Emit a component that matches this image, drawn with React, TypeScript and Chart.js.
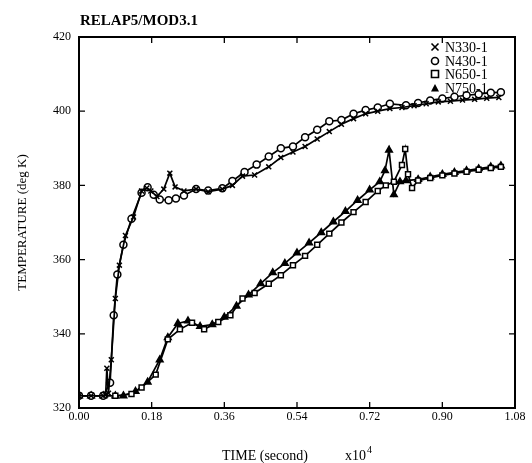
import React, { useEffect, useRef } from "react";
import { Chart, registerables } from "chart.js";

Chart.register(...registerables);

const xTicks = [0, 0.18, 0.36, 0.54, 0.72, 0.9, 1.08];
const yTicks = [320, 340, 360, 380, 400, 420];

const n330T = [0, 0.03, 0.06, 0.066, 0.069, 0.073, 0.08, 0.09, 0.1, 0.115, 0.135, 0.155, 0.168, 0.178, 0.193, 0.21, 0.225, 0.238, 0.26, 0.29, 0.32, 0.355, 0.38, 0.405, 0.435, 0.47, 0.5, 0.53, 0.56, 0.59, 0.62, 0.65, 0.68, 0.71, 0.74, 0.77, 0.8, 0.83, 0.86, 0.89, 0.92, 0.95, 0.98, 1.01, 1.04];
const n330V = [323.3, 323.3, 323.3, 323.5, 330.7, 324, 333, 349.5, 358.5, 366.5, 371.5, 378.5, 379.3, 378.5, 377, 379, 383.3, 379.6, 378.5, 379, 378.3, 379, 380, 382.5, 382.8, 385, 387.5, 389, 390.5, 392.5, 394.5, 396.5, 398, 399.3, 400, 400.7, 401, 401.5, 402, 402.5, 402.7, 403, 403.2, 403.5, 403.7];

const n430T = [0, 0.03, 0.06, 0.077, 0.086, 0.095, 0.11, 0.13, 0.155, 0.17, 0.185, 0.2, 0.222, 0.24, 0.26, 0.29, 0.32, 0.355, 0.38, 0.41, 0.44, 0.47, 0.5, 0.53, 0.56, 0.59, 0.62, 0.65, 0.68, 0.71, 0.74, 0.77, 0.81, 0.84, 0.87, 0.9, 0.93, 0.96, 0.99, 1.02, 1.045];
const n430V = [323.3, 323.3, 323.3, 326.8, 345, 356, 364, 371, 378, 379.5, 377.5, 376.2, 376, 376.5, 377.3, 379, 378.6, 379.2, 381.2, 383.6, 385.6, 387.8, 390, 390.5, 393, 395, 397.3, 397.6, 399.3, 400.3, 401, 402, 401.6, 402.2, 402.9, 403.4, 403.9, 404.3, 404.6, 405, 405.1];

const n650T = [0, 0.03, 0.06, 0.09, 0.13, 0.155, 0.19, 0.22, 0.25, 0.28, 0.31, 0.345, 0.375, 0.405, 0.435, 0.47, 0.5, 0.53, 0.56, 0.59, 0.62, 0.65, 0.68, 0.71, 0.74, 0.76, 0.78, 0.8, 0.808, 0.815, 0.825, 0.84, 0.87, 0.9, 0.93, 0.96, 0.99, 1.02, 1.045];
const n650V = [323.3, 323.3, 323.3, 323.3, 323.8, 325.5, 329, 338.5, 341.2, 343, 341.2, 343.2, 345, 349.5, 351, 353.5, 355.8, 358.5, 361, 364, 367, 370, 372.8, 375.5, 378.5, 380, 381, 385.5, 389.8, 383, 379.3, 381.3, 382, 382.7, 383.2, 383.7, 384.2, 384.7, 385];

const n750T = [0, 0.03, 0.06, 0.09, 0.11, 0.14, 0.17, 0.2, 0.22, 0.245, 0.27, 0.3, 0.33, 0.36, 0.39, 0.42, 0.45, 0.48, 0.51, 0.54, 0.57, 0.6, 0.63, 0.66, 0.69, 0.72, 0.745, 0.758, 0.768, 0.78, 0.795, 0.81, 0.84, 0.87, 0.9, 0.93, 0.96, 0.99, 1.02, 1.045];
const n750V = [323.3, 323.3, 323.3, 323.3, 323.3, 324.5, 327, 333, 339, 342.8, 343.5, 342, 342.5, 344.5, 347.5, 350.5, 353.5, 356.5, 359, 361.8, 364.5, 367.3, 370.2, 373, 376, 378.8, 381, 384, 389.5, 377.5, 381, 381.3, 381.6, 382.3, 383, 383.5, 384, 384.5, 385, 385.3];

const seriesNames = ["N330-1", "N430-1", "N650-1", "N750-1"];
const SERIF = "'Liberation Serif', 'DejaVu Serif', serif";

function pts(t: number[], v: number[]) {
  return t.map((x, i) => ({ x, y: v[i] }));
}

function drawMarker(ctx: CanvasRenderingContext2D, kind: number, x: number, y: number) {
  ctx.save();
  ctx.strokeStyle = "#000";
  ctx.fillStyle = "#000";
  ctx.lineWidth = 1.6;
  const r = 3.5;
  ctx.beginPath();
  if (kind === 0) {
    ctx.moveTo(x - r, y - r); ctx.lineTo(x + r, y + r);
    ctx.moveTo(x + r, y - r); ctx.lineTo(x - r, y + r);
    ctx.stroke();
  } else if (kind === 1) {
    ctx.arc(x, y, r, 0, Math.PI * 2);
    ctx.fillStyle = "#fff"; ctx.fill(); ctx.stroke();
  } else if (kind === 2) {
    ctx.rect(x - r, y - r, 2 * r, 2 * r);
    ctx.fillStyle = "#fff"; ctx.fill(); ctx.stroke();
  } else {
    ctx.moveTo(x, y - r - 0.5); ctx.lineTo(x + r + 0.5, y + r); ctx.lineTo(x - r - 0.5, y + r);
    ctx.closePath(); ctx.fill();
  }
  ctx.restore();
}

const framePlugin = {
  id: "frame",
  afterDraw(chart: any) {
    const { ctx, chartArea: a, scales } = chart;
    ctx.save();
    ctx.strokeStyle = "#000";
    ctx.lineWidth = 2;
    ctx.strokeRect(a.left, a.top, a.right - a.left, a.bottom - a.top);
    ctx.lineWidth = 1.3;
    ctx.beginPath();
    xTicks.forEach((t) => {
      const px = scales.x.getPixelForValue(t);
      ctx.moveTo(px, a.bottom); ctx.lineTo(px, a.bottom - 6);
      ctx.moveTo(px, a.top); ctx.lineTo(px, a.top + 6);
    });
    yTicks.forEach((t) => {
      const py = scales.y.getPixelForValue(t);
      ctx.moveTo(a.left, py); ctx.lineTo(a.left + 6, py);
      ctx.moveTo(a.right, py); ctx.lineTo(a.right - 6, py);
    });
    ctx.stroke();

    ctx.fillStyle = "#000";
    ctx.font = `bold 15px ${SERIF}`;
    ctx.textAlign = "left";
    ctx.textBaseline = "alphabetic";
    ctx.fillText("RELAP5/MOD3.1", 80, 25);

    ctx.font = `14px ${SERIF}`;
    ctx.fillText("TIME (second)", 222, 460);
    ctx.fillText("x10", 345, 460);
    const w = ctx.measureText("x10").width;
    ctx.font = `10px ${SERIF}`;
    ctx.fillText("4", 345 + w + 1, 453);

    ctx.save();
    ctx.translate(23, (a.top + a.bottom) / 2);
    ctx.rotate(-Math.PI / 2);
    ctx.textAlign = "center";
    ctx.textBaseline = "middle";
    ctx.font = `13px ${SERIF}`;
    ctx.fillText("TEMPERATURE (deg K)", 0, 0);
    ctx.restore();

    ctx.font = `14px ${SERIF}`;
    ctx.textBaseline = "middle";
    ctx.textAlign = "left";
    const rows = [47, 61, 74, 88];
    seriesNames.forEach((n, i) => {
      drawMarker(ctx, i, 435, rows[i]);
      ctx.fillStyle = "#000";
      ctx.fillText(n, 445, rows[i] + 1);
    });
    ctx.restore();
  },
};

export default function App() {
  const ref = useRef<HTMLCanvasElement | null>(null);
  useEffect(() => {
    if (!ref.current) return;
    const common = { borderColor: "#000", borderWidth: 1.7, pointRadius: 3.5, pointBorderWidth: 1.5, tension: 0 };
    const chart = new Chart(ref.current, {
      type: "line",
      data: {
        datasets: [
          { ...common, label: seriesNames[0], data: pts(n330T, n330V), pointStyle: "crossRot", pointBorderColor: "#000" },
          { ...common, label: seriesNames[1], data: pts(n430T, n430V), pointStyle: "circle", pointBackgroundColor: "#fff", pointBorderColor: "#000" },
          { ...common, label: seriesNames[2], data: pts(n650T, n650V), pointStyle: "rect", pointBackgroundColor: "#fff", pointBorderColor: "#000" },
          { ...common, label: seriesNames[3], data: pts(n750T, n750V), pointStyle: "triangle", pointBackgroundColor: "#000", pointBorderColor: "#000", pointRadius: 3.8 },
        ],
      } as any,
      options: {
        responsive: false,
        animation: false,
        devicePixelRatio: 1,
        layout: { padding: { left: 8, right: 17, top: 37, bottom: 0 } },
        plugins: { legend: { display: false }, tooltip: { enabled: false }, title: { display: false } },
        scales: {
          x: {
            type: "linear",
            min: 0,
            max: 1.08,
            afterFit: (s: any) => { s.height = 55; },
            afterBuildTicks: (s: any) => { s.ticks = xTicks.map((v) => ({ value: v })); },
            ticks: {
              callback: (v: any) => Number(v).toFixed(2),
              font: { family: SERIF, size: 12 },
              color: "#000",
              padding: 2,
              maxRotation: 0,
            },
            grid: { display: false, drawTicks: false },
            border: { display: false },
          },
          y: {
            type: "linear",
            min: 320,
            max: 420,
            afterFit: (s: any) => { s.width = 71; },
            afterBuildTicks: (s: any) => { s.ticks = yTicks.map((v) => ({ value: v })); },
            ticks: {
              font: { family: SERIF, size: 12 },
              color: "#000",
              padding: 8,
            },
            grid: { display: false, drawTicks: false },
            border: { display: false },
          },
        },
      } as any,
      plugins: [framePlugin],
    });
    return () => chart.destroy();
  }, []);
  return (
    <div style={{ position: "absolute", left: 0, top: 0, width: 532, height: 463, background: "#fff" }}>
      <canvas ref={ref} width={532} height={463} style={{ width: 532, height: 463, display: "block" }} />
    </div>
  );
}
